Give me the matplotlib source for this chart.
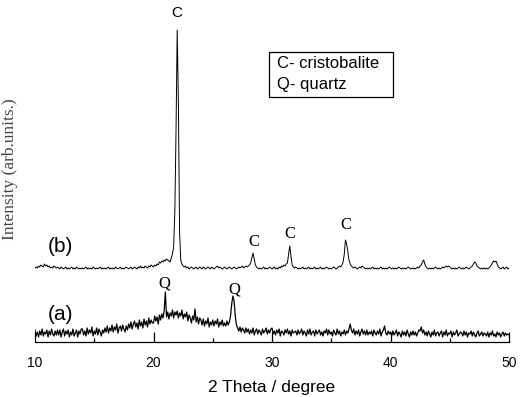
import numpy as np
import matplotlib.pyplot as plt
from matplotlib.patches import Rectangle

# 2 theta grid, 0.1 degree step from 10 to 50
two_theta = np.linspace(10, 50, 401)

# trace (a): amorphous sample with quartz peaks (arb. units)
trace_a = [
    12, 6, 10, 5, 11, 7, 13, 6, 10, 8, 12, 5, 11, 7, 13, 8, 6, 11, 7, 12,
    7, 12, 5, 10, 13, 6, 11, 8, 12, 5, 10, 7, 13, 6, 9, 12, 5, 11, 8, 13,
    13, 7, 11, 6, 14, 8, 12, 9, 15, 6, 11, 8, 14, 7, 13, 10, 6, 12, 9, 14,
    10, 16, 9, 14, 11, 17, 10, 15, 12, 18, 9, 14, 16, 11, 17, 13, 10, 16, 12, 18,
    14, 20, 13, 18, 21, 15, 19, 13, 22, 16, 20, 14, 23, 17, 21, 15, 24, 18, 22, 19,
    19, 26, 21, 25, 18, 27, 22, 28, 24, 31, 50, 25, 30, 23, 29, 26, 32, 24, 30, 27,
    31, 24, 29, 26, 32, 23, 28, 25, 30, 21, 27, 24, 19, 26, 22, 33, 20, 25, 18, 24,
    22, 17, 23, 16, 21, 18, 24, 15, 20, 17, 22, 16, 21, 18, 23, 15, 20, 17, 22, 16,
    19, 16, 21, 17, 20, 26, 38, 46, 41, 26, 17, 14, 11, 15, 10, 14, 12, 9, 14, 10,
    13, 8, 12, 9, 14, 7, 11, 13, 8, 12, 10, 7, 13, 9, 11, 14, 8, 12, 9, 13,
    14, 8, 11, 7, 12, 9, 13, 6, 11, 10, 7, 12, 9, 13, 8, 11, 6, 12, 9, 10,
    11, 7, 12, 8, 10, 13, 7, 11, 9, 6, 12, 8, 13, 7, 10, 11, 6, 12, 8, 10,
    12, 7, 10, 6, 11, 9, 13, 7, 12, 8, 10, 6, 12, 9, 7, 13, 8, 11, 6, 10,
    8, 12, 7, 11, 9, 13, 18, 12, 9, 13, 7, 11, 8, 12, 6, 10, 13, 8, 11, 7,
    12, 7, 10, 8, 11, 6, 12, 9, 7, 11, 8, 13, 6, 10, 12, 16, 9, 7, 11, 8,
    10, 6, 11, 7, 9, 12, 6, 10, 8, 5, 11, 7, 10, 6, 12, 8, 5, 10, 7, 11,
    7, 10, 6, 9, 12, 11, 15, 9, 12, 7, 10, 6, 11, 8, 5, 10, 7, 12, 6, 9,
    10, 6, 9, 11, 5, 10, 7, 12, 6, 9, 8, 11, 5, 10, 7, 9, 12, 6, 8, 10,
    9, 6, 11, 7, 10, 5, 9, 8, 11, 6, 10, 7, 5, 9, 11, 6, 8, 10, 6, 9,
    8, 6, 10, 5, 9, 7, 11, 6, 8, 5, 10, 7, 9, 5, 8, 10, 6, 9, 7, 8,
    7,
]

# trace (b): after heating, cristobalite peaks
trace_b = [
    74, 75, 74, 76, 75, 77, 76, 75, 78, 76, 77, 75, 76, 74, 75, 74, 76, 75, 74, 75,
    74, 73, 75, 74, 73, 74, 75, 73, 74, 73, 74, 75, 73, 74, 73, 75, 74, 73, 74, 73,
    74, 73, 74, 75, 73, 74, 73, 74, 73, 75, 74, 73, 74, 73, 74, 75, 73, 74, 73, 74,
    73, 74, 75, 73, 74, 73, 74, 73, 75, 74, 73, 74, 75, 73, 74, 73, 74, 75, 74, 73,
    74, 75, 73, 74, 75, 74, 73, 75, 74, 76, 74, 75, 74, 76, 75, 74, 76, 75, 77, 76,
    75, 77, 76, 78, 77, 80, 79, 81, 80, 82, 81, 83, 82, 81, 80, 84, 88, 95, 130, 210,
    312, 240, 110, 82, 78, 76, 75, 76, 74, 75, 73, 74, 75, 74, 73, 74, 75, 73, 74, 75,
    74, 73, 75, 74, 73, 74, 75, 74, 73, 75, 74, 73, 74, 75, 76, 74, 75, 74, 73, 74,
    75, 74, 73, 74, 75, 74, 73, 74, 75, 74, 73, 74, 75, 74, 75, 76, 74, 75, 76, 75,
    76, 77, 79, 84, 89, 83, 77, 75, 74, 73, 74, 73, 74, 75, 73, 74, 73, 74, 75, 74,
    73, 74, 75, 73, 74, 73, 75, 74, 76, 75, 77, 76, 78, 79, 88, 96, 86, 77, 75, 74,
    75, 74, 73, 74, 73, 74, 75, 73, 74, 73, 74, 75, 73, 74, 73, 74, 75, 73, 74, 73,
    74, 75, 73, 74, 73, 74, 75, 74, 73, 74, 73, 74, 75, 74, 73, 74, 75, 76, 75, 77,
    80, 88, 102, 98, 90, 82, 78, 76, 75, 74, 75, 74, 73, 74, 75, 74, 76, 75, 74, 73,
    74, 73, 74, 73, 74, 75, 73, 74, 73, 74, 73, 74, 75, 73, 74, 73, 74, 73, 74, 75,
    74, 73, 74, 73, 74, 73, 74, 75, 74, 73, 74, 73, 74, 73, 74, 75, 74, 73, 74, 73,
    74, 73, 74, 75, 74, 76, 77, 80, 82, 78, 75, 74, 73, 74, 73, 74, 73, 74, 75, 74,
    73, 74, 73, 74, 75, 74, 75, 76, 75, 76, 75, 74, 73, 74, 73, 74, 73, 74, 75, 74,
    73, 74, 73, 74, 75, 74, 73, 74, 75, 76, 78, 80, 79, 76, 75, 74, 73, 74, 73, 74,
    73, 74, 73, 74, 75, 77, 79, 81, 80, 81, 78, 75, 74, 73, 74, 75, 73, 74, 75, 73,
    74,
]

# peak labels: (x, y, text)
peak_labels = [
    (22.0, 329, "C"),
    (28.5, 100, "C"),
    (31.5, 108, "C"),
    (36.2, 117, "C"),
    (20.9, 59, "Q"),
    (26.8, 53, "Q"),
]

fig = plt.figure(figsize=(5.28, 3.97), dpi=100)
ax = fig.add_axes([35 / 528, 1 - 342 / 397, 474 / 528, 342 / 397])

ax.plot(two_theta, trace_a, color="black", lw=0.9)
ax.plot(two_theta, trace_b, color="black", lw=0.7)

ax.set_xlim(10, 50)
ax.set_ylim(0, 342)

for x, y, txt in peak_labels:
    if y > 300:
        ax.text(x, y, txt, ha="center", va="center", fontsize=11, family="Liberation Sans")
    else:
        ax.text(x, y, txt, ha="center", va="center", fontsize=12, family="Liberation Serif")

ax.text(11.1, 95, "(b)", fontsize=15, family="Liberation Sans", va="center")
ax.text(11.1, 28, "(a)", fontsize=15, family="Liberation Sans", va="center")

# key box
ax.add_patch(Rectangle((29.75, 245), 10.45, 45, fill=False, ec="black", lw=0.9))
ax.text(30.4, 278, "C- cristobalite", fontsize=12, family="Liberation Sans", va="center")
ax.text(30.4, 257, "Q- quartz", fontsize=12, family="Liberation Sans", va="center")

for s in ["top", "right", "left"]:
    ax.spines[s].set_visible(False)
ax.spines["bottom"].set_linewidth(0.9)
ax.set_yticks([])
ax.set_xticks([10, 20, 30, 40, 50])
ax.set_xticks([15, 25, 35, 45], minor=True)
ax.tick_params(axis="x", which="major", direction="in", length=7, width=0.9,
               labelsize=10, pad=10)
ax.tick_params(axis="x", which="minor", direction="in", length=3, width=0.9)
for lab in ax.get_xticklabels():
    lab.set_family("Liberation Sans")

ax.set_xlabel("2 Theta / degree", fontsize=12.5, family="Liberation Sans", labelpad=7)
fig.text(10 / 528, 1 - 169 / 397, "Intensity (arb.units.)", rotation=90,
         fontsize=12.5, family="Liberation Serif", color="#444444",
         ha="center", va="center")

fig.savefig("out.png", dpi=100)
